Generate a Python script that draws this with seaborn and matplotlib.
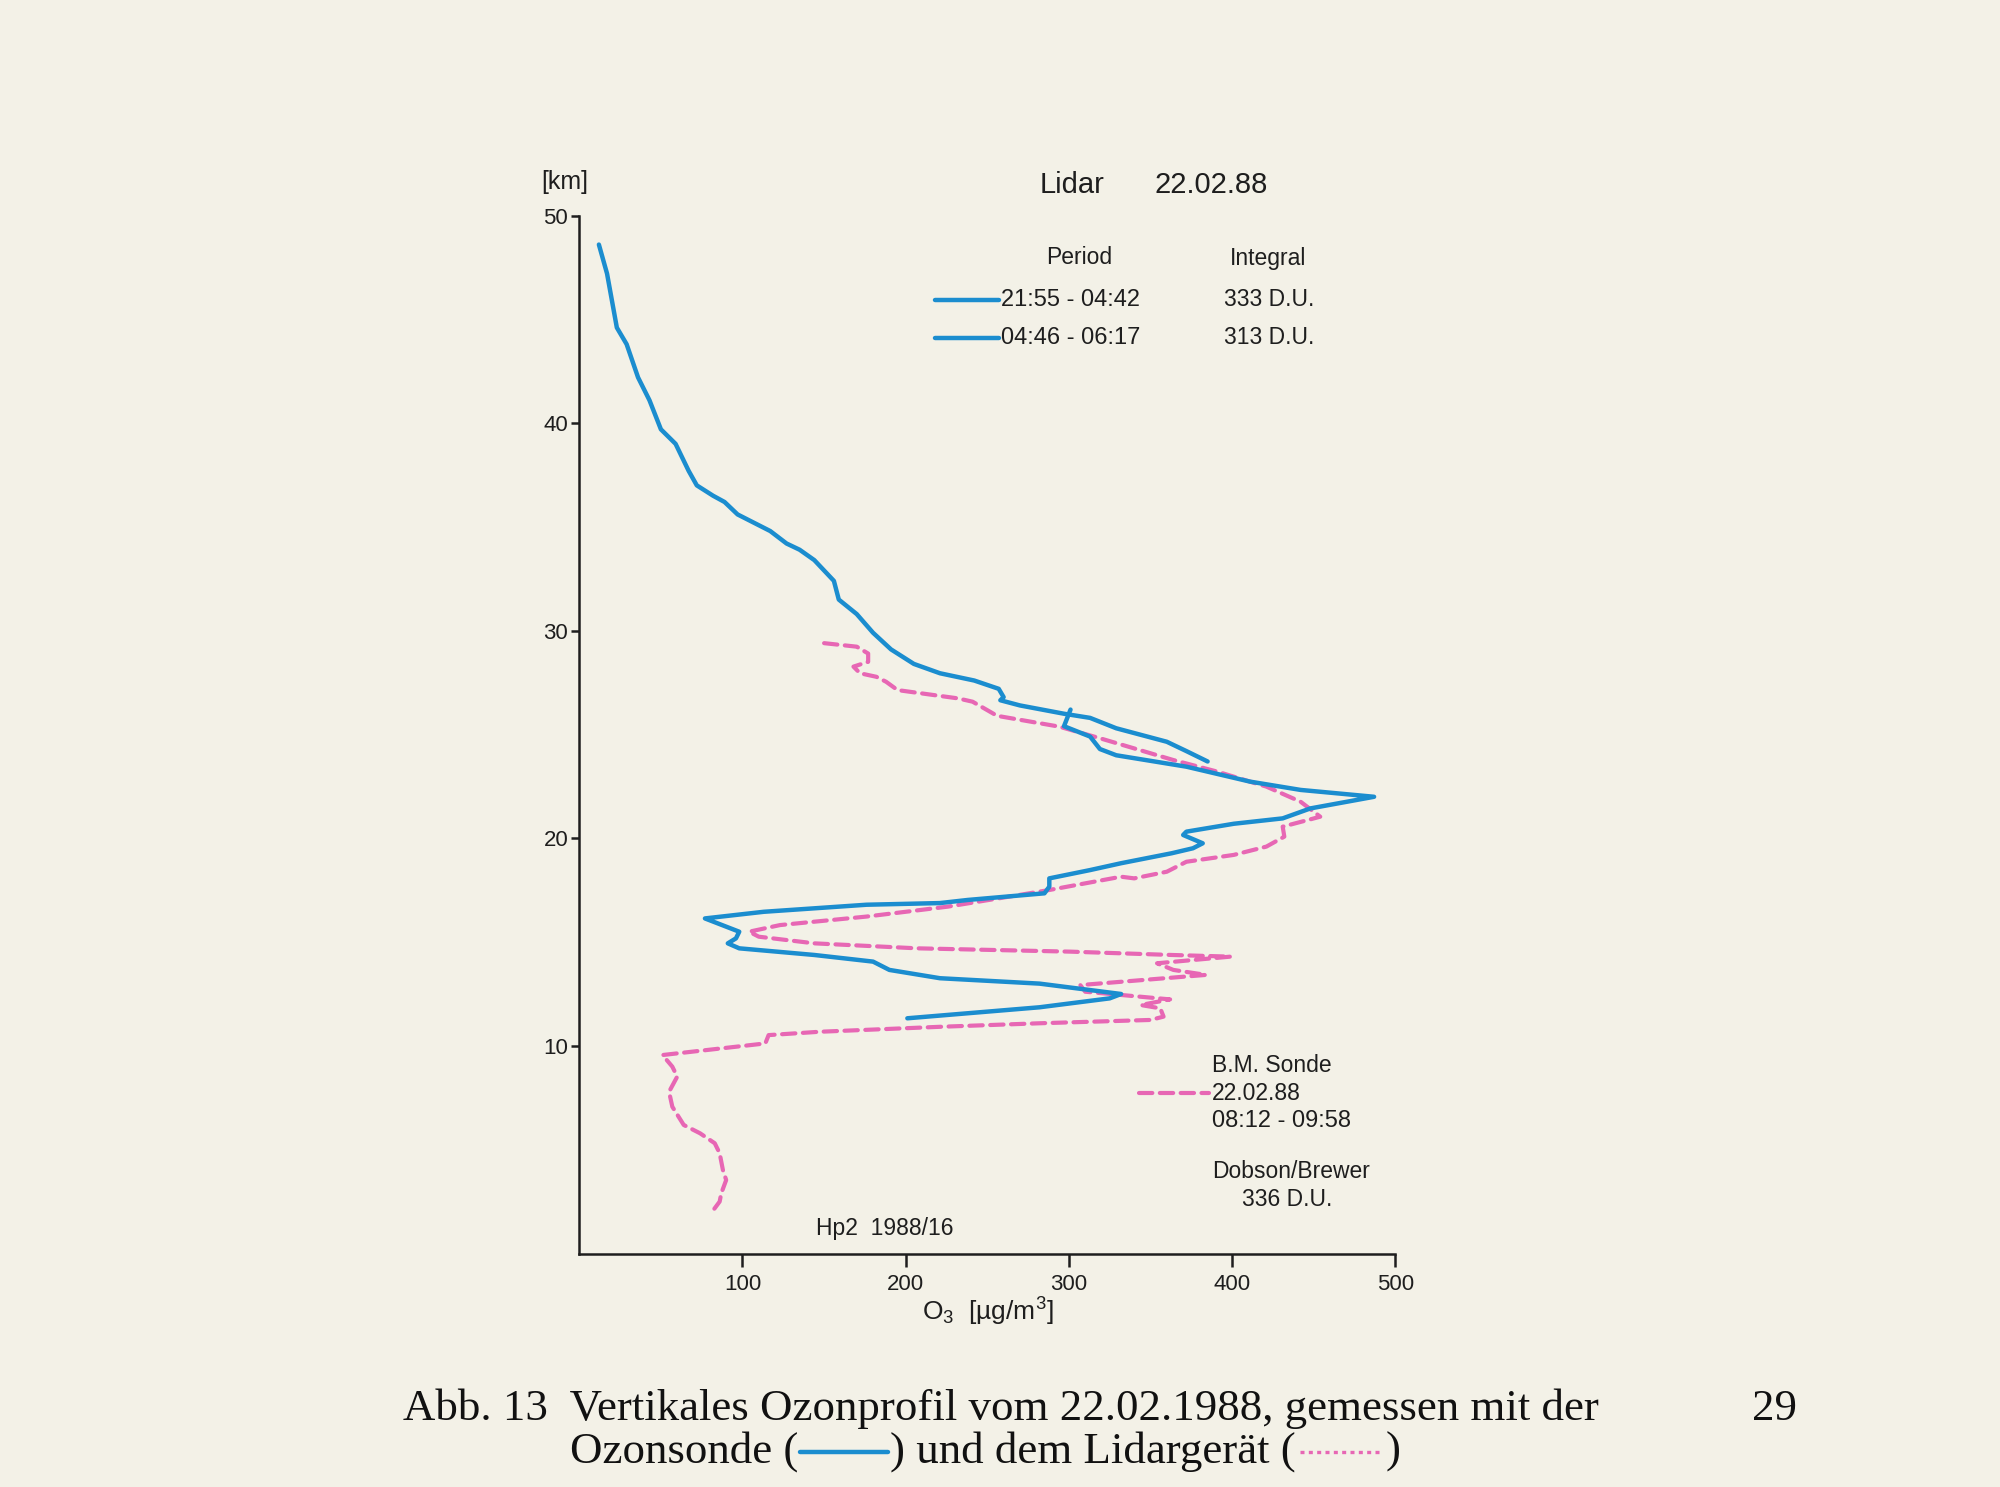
import numpy as np
import pandas as pd
import matplotlib
matplotlib.use("Agg")
import matplotlib.pyplot as plt
import seaborn as sns
from matplotlib.lines import Line2D

# ---------------- data ----------------
# Lidar 21:55 - 04:42  (ozone µg/m3, altitude km)
lidar1_o3 = [12, 17, 23, 29, 36, 43, 50, 59, 67, 72, 82, 89, 97, 117, 127, 135, 144, 156,
             159, 170, 180, 191, 205, 221, 242, 257, 260, 258, 270, 297, 313, 329, 360,
             372, 385]
lidar1_km = [48.6, 47.2, 44.6, 43.8, 42.2, 41.1, 39.7, 39.0, 37.7, 37.0, 36.5, 36.2, 35.6,
             34.8, 34.2, 33.9, 33.4, 32.4, 31.5, 30.8, 29.9, 29.1, 28.4, 27.95, 27.6, 27.2,
             26.8, 26.65, 26.4, 26.0, 25.8, 25.3, 24.65, 24.2, 23.7]

# Lidar 04:46 - 06:17
lidar2_o3 = [301, 297, 313, 319, 329, 372, 411, 442, 487, 448, 431, 401, 372, 370, 382,
             376, 363, 332, 313, 288, 288, 285, 238, 221, 176, 113, 77, 98, 96, 91, 98,
             144, 180, 190, 221, 282, 332, 325, 282, 201]
lidar2_km = [26.2, 25.4, 24.9, 24.3, 24.0, 23.45, 22.73, 22.33, 22.0, 21.44, 20.96, 20.7,
             20.32, 20.16, 19.76, 19.52, 19.28, 18.8, 18.47, 18.07, 17.67, 17.35, 17.03,
             16.88, 16.8, 16.46, 16.14, 15.5, 15.18, 14.94, 14.7, 14.38, 14.06, 13.66,
             13.26, 13.0, 12.5, 12.29, 11.86, 11.33]

# B.M. Sonde 22.02.88 08:12 - 09:58
sonde_o3 = [150, 170, 177, 177, 168, 172, 182, 188, 195, 232, 241, 256, 294, 319, 340,
            364, 391, 421, 442, 454, 431, 432, 421, 401, 372, 360, 340, 332, 288, 251,
            226, 176, 123, 104, 110, 144, 207, 301, 363, 399, 354, 364, 384, 307, 310,
            362, 344, 356, 358, 350, 282, 221, 147, 116, 114, 51, 57, 60, 55, 57, 64,
            74, 83, 86, 88, 90, 87, 86, 81]
sonde_km = [29.4, 29.23, 28.9, 28.5, 28.27, 27.95, 27.78, 27.54, 27.14, 26.74, 26.58,
            25.9, 25.38, 24.82, 24.33, 23.77, 23.21, 22.49, 21.76, 21.04, 20.56, 20.08,
            19.6, 19.2, 18.87, 18.39, 18.07, 18.15, 17.51, 17.03, 16.71, 16.23, 15.82,
            15.5, 15.26, 14.94, 14.7, 14.54, 14.38, 14.3, 13.98, 13.66, 13.42, 12.93,
            12.61, 12.24, 11.97, 11.81, 11.41, 11.25, 11.09, 10.92, 10.68, 10.52, 10.12,
            9.56, 9.0, 8.52, 7.79, 7.07, 6.19, 5.79, 5.31, 4.83, 4.02, 3.54, 2.9, 2.5,
            1.97]

x_ticks = [100, 200, 300, 400, 500]
y_ticks = [10, 20, 30, 40, 50]

lidar_periods = ["21:55 - 04:42", "04:46 - 06:17"]
lidar_integrals = ["333 D.U.", "313 D.U."]

# ---------------- style ----------------
sns.set_theme(style="ticks")
SANS = ["Liberation Sans Narrow", "Liberation Sans", "DejaVu Sans"]
SERIF = ["Liberation Serif", "DejaVu Serif"]
plt.rcParams["font.family"] = SANS
plt.rcParams["mathtext.default"] = "regular"

BG = "#f3f1e7"
BLUE = "#1b8dcf"
PINK = "#e767b4"
INK = "#1e1e1e"

W, H = 2000, 1487
fig = plt.figure(figsize=(W / 100, H / 100), dpi=100, facecolor=BG)


def fx(px):
    return px / W


def fy(py):
    return 1 - py / H


ax = fig.add_axes([fx(579.3), fy(1253.5), (1395.3 - 579.3) / W, (1253.5 - 215.5) / H])
ax.set_facecolor(BG)

df1 = pd.DataFrame({"o3": lidar1_o3, "km": lidar1_km})
df2 = pd.DataFrame({"o3": lidar2_o3, "km": lidar2_km})
dfs = pd.DataFrame({"o3": sonde_o3, "km": sonde_km})

sns.lineplot(data=dfs, x="o3", y="km", sort=False, estimator=None, color=PINK,
             lw=3.0, ax=ax)
sline = ax.lines[-1]
sline.set_dashes((3.2, 1.8))
sline.set_dash_capstyle("round")
sns.lineplot(data=df1, x="o3", y="km", sort=False, estimator=None, color=BLUE,
             lw=3.2, ax=ax, solid_capstyle="round", solid_joinstyle="round")
sns.lineplot(data=df2, x="o3", y="km", sort=False, estimator=None, color=BLUE,
             lw=3.2, ax=ax, solid_capstyle="round", solid_joinstyle="round")

ax.set_xlim(0, 500)
ax.set_ylim(0, 50)
ax.set_xticks(x_ticks)
ax.set_yticks(y_ticks)
ax.set_xlabel("")
ax.set_ylabel("")
sns.despine(ax=ax)
for s in ("left", "bottom"):
    ax.spines[s].set_color(INK)
    ax.spines[s].set_linewidth(1.8)
ax.tick_params(axis="x", direction="out", length=9, width=1.8, colors=INK,
               labelsize=16, pad=6)
ax.tick_params(axis="y", direction="out", length=6, width=1.8, colors=INK,
               labelsize=16, pad=2)
ax.grid(False)

# ---------------- annotations ----------------
TS = 16.5
fig.text(fx(565), fy(182), "[km]", ha="center", va="center", fontsize=18, color=INK)
fig.text(fx(1040), fy(185), "Lidar", ha="left", va="center", fontsize=21, color=INK)
fig.text(fx(1154), fy(185), "22.02.88", ha="left", va="center", fontsize=21, color=INK)
fig.text(fx(1079), fy(258), "Period", ha="center", va="center", fontsize=TS, color=INK)
fig.text(fx(1268), fy(259), "Integral", ha="center", va="center", fontsize=TS, color=INK)

for i, (per, integ) in enumerate(zip(lidar_periods, lidar_integrals)):
    yy = 300 + i * 38
    fig.add_artist(Line2D([fx(935), fx(999)], [fy(yy), fy(yy)], color=BLUE, lw=3.2,
                          transform=fig.transFigure))
    fig.text(fx(1001), fy(yy), per, ha="left", va="center", fontsize=TS + 0.5, color=INK)
    fig.text(fx(1224), fy(yy), integ, ha="left", va="center", fontsize=TS, color=INK)

fig.text(fx(1212), fy(1065), "B.M. Sonde", ha="left", va="center", fontsize=TS, color=INK)
fig.add_artist(Line2D([fx(1139), fx(1209)], [fy(1093), fy(1093)], color=PINK, lw=3.0,
                      dashes=(3.2, 1.8), dash_capstyle="round",
                      transform=fig.transFigure))
fig.text(fx(1212), fy(1093), "22.02.88", ha="left", va="center", fontsize=TS, color=INK)
fig.text(fx(1212), fy(1121), "08:12 - 09:58", ha="left", va="center", fontsize=TS + 0.5,
         color=INK)
fig.text(fx(1212), fy(1172), "Dobson/Brewer", ha="left", va="center", fontsize=TS,
         color=INK)
fig.text(fx(1287), fy(1200), "336 D.U.", ha="center", va="center", fontsize=TS, color=INK)
fig.text(fx(816), fy(1228), "Hp2  1988/16", ha="left", va="center", fontsize=TS,
         color=INK)
fig.text(fx(988), fy(1312), "O$_3$  [µg/m$^3$]", ha="center", va="center", fontsize=19,
         color=INK)

# ---------------- caption ----------------
CAP = 32.3
fig.text(fx(403), fy(1409), "Abb. 13  Vertikales Ozonprofil vom 22.02.1988, gemessen mit der",
         ha="left", va="center", fontsize=CAP, family=SERIF, color="#111111")
fig.text(fx(1752), fy(1409), "29", ha="left", va="center", fontsize=CAP, family=SERIF,
         color="#111111")

fig.canvas.draw()
r = fig.canvas.get_renderer()
ycap = fy(1452)
t = fig.text(fx(570), ycap, "Ozonsonde (", ha="left", va="center", fontsize=CAP,
             family=SERIF, color="#111111")
bb = t.get_window_extent(r)
x0 = bb.x1 + 2
x1 = x0 + 88
fig.add_artist(Line2D([x0 / W, x1 / W], [ycap, ycap], color=BLUE, lw=3.2,
                      transform=fig.transFigure))
t = fig.text((x1 + 2) / W, ycap, ") und dem Lidargerät (", ha="left", va="center",
             fontsize=CAP, family=SERIF, color="#111111")
bb = t.get_window_extent(r)
x0 = bb.x1 + 4
x1 = x0 + 82
fig.add_artist(Line2D([x0 / W, x1 / W], [ycap, ycap], color=PINK, lw=2.4,
                      dashes=(1.2, 1.3), transform=fig.transFigure))
fig.text((x1 + 3) / W, ycap, ")", ha="left", va="center", fontsize=CAP, family=SERIF,
         color="#111111")

fig.savefig("out.png", dpi=100, facecolor=BG)
